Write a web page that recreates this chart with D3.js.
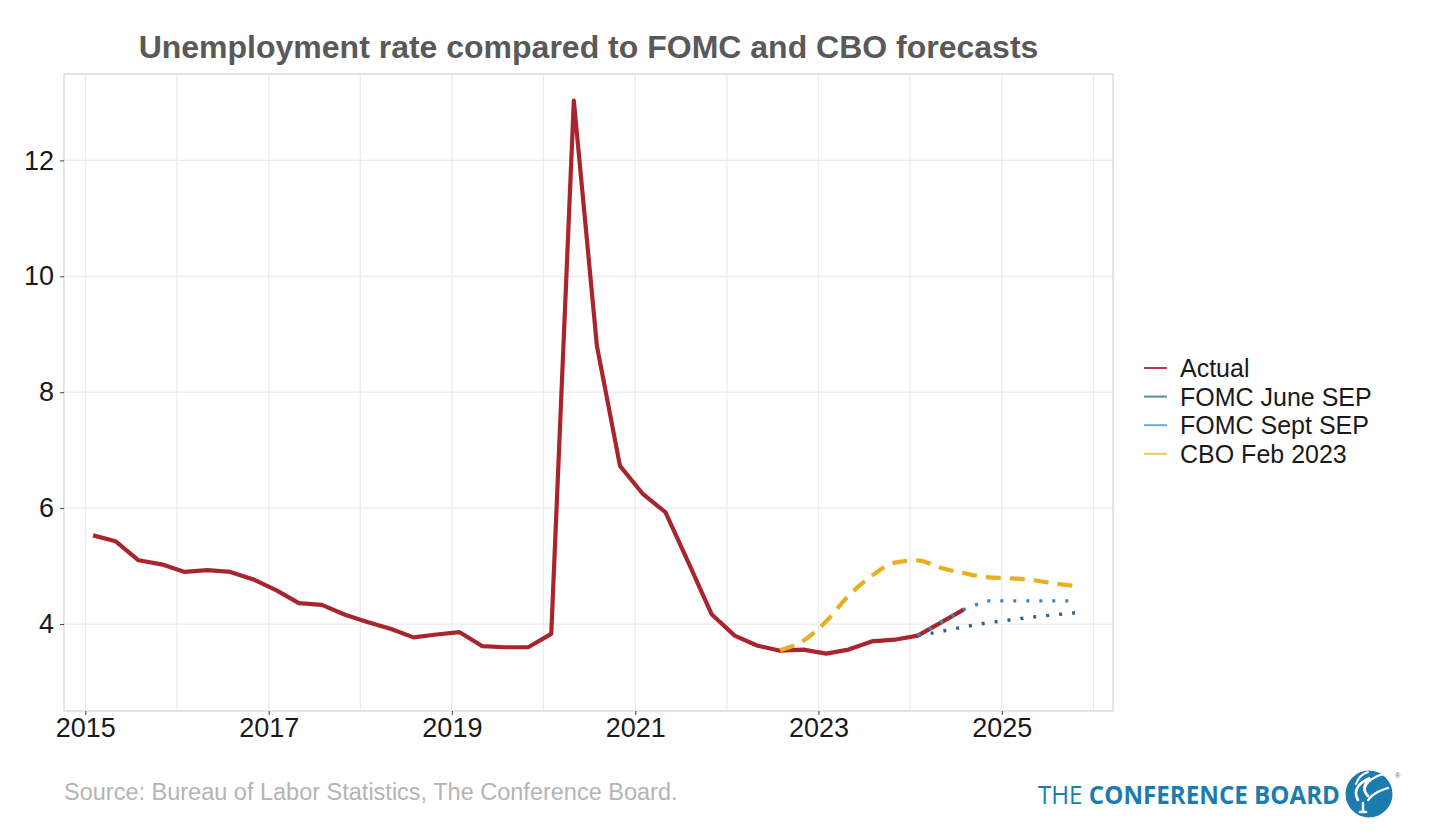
<!DOCTYPE html>
<html>
<head>
<meta charset="utf-8">
<script src="https://cdn.jsdelivr.net/npm/d3@7"></script>
<style>
  html, body { margin: 0; padding: 0; background: #ffffff; }
  svg { display: block; font-family: "Liberation Sans", Arial, sans-serif; }
</style>
</head>
<body>
<svg id="chart" width="1430" height="834"></svg>
<script>
// ---------------- DATA ----------------
const actualDates = [
  "2015-02-01","2015-05-01","2015-08-01","2015-11-01",
  "2016-02-01","2016-05-01","2016-08-01","2016-11-01",
  "2017-02-01","2017-05-01","2017-08-01","2017-11-01",
  "2018-02-01","2018-05-01","2018-08-01","2018-11-01",
  "2019-02-01","2019-05-01","2019-08-01","2019-11-01",
  "2020-02-01","2020-05-01","2020-08-01","2020-11-01",
  "2021-02-01","2021-05-01","2021-08-01","2021-11-01",
  "2022-02-01","2022-05-01","2022-08-01","2022-11-01",
  "2023-02-01","2023-05-01","2023-08-01","2023-11-01",
  "2024-02-01","2024-05-01","2024-08-01"
];
const actualValues = [
  5.53, 5.43, 5.10, 5.03,
  4.90, 4.93, 4.90, 4.77,
  4.58, 4.36, 4.33, 4.16,
  4.03, 3.92, 3.77, 3.82,
  3.86, 3.62, 3.60, 3.60,
  3.83, 13.03, 8.80, 6.73,
  6.24, 5.93, 5.06, 4.17,
  3.80, 3.63, 3.54, 3.56,
  3.49, 3.56, 3.70, 3.73,
  3.80, 4.02, 4.25
];

const fomcDates = [
  "2024-02-01","2024-05-01","2024-08-01","2024-11-01",
  "2025-02-01","2025-05-01","2025-08-01","2025-11-01"
];
const fomcJuneValues = [3.80, 3.87, 3.95, 4.02, 4.07, 4.12, 4.16, 4.20];
const fomcSeptValues = [3.80, 4.02, 4.25, 4.40, 4.40, 4.40, 4.40, 4.40];

const cboDates = [
  "2022-08-01","2022-11-01",
  "2023-02-01","2023-05-01","2023-08-01","2023-11-01",
  "2024-02-01","2024-05-01","2024-08-01","2024-11-01",
  "2025-02-01","2025-05-01","2025-08-01","2025-11-01"
];
const cboValues = [3.55, 3.71, 4.05, 4.49, 4.83, 5.06, 5.10, 4.97, 4.88, 4.81, 4.79, 4.76, 4.70, 4.65];

const yTicks = [4, 6, 8, 10, 12];
const xTickYears = [2015, 2017, 2019, 2021, 2023, 2025];
const xMinorYears = [2016, 2018, 2020, 2022, 2024, 2026];

const seriesNames = ["Actual", "FOMC June SEP", "FOMC Sept SEP", "CBO Feb 2023"];

const titleText = "Unemployment rate compared to FOMC and CBO forecasts";
const sourceText = "Source: Bureau of Labor Statistics, The Conference Board.";

// ---------------- LAYOUT ----------------
const parse = d3.timeParse("%Y-%m-%d");
const svg = d3.select("#chart");
const panel = { left: 64, right: 1113, top: 74, bottom: 711 };

const x = d3.scaleTime()
  .domain([parse("2014-10-08"), parse("2026-03-20")])
  .range([panel.left, panel.right]);
const y = d3.scaleLinear()
  .domain([2.5, 13.49])
  .range([panel.bottom, panel.top]);

const colors = {
  actual: "#a8252e",
  june: "#2a6196",
  sept: "#3a84bd",
  cbo: "#e8af22"
};
const legendColors = ["#a8454b", "#5f8aa3", "#6aabc9", "#ecc660"];

// gridlines
const grid = svg.append("g");
grid.selectAll("line.ymaj").data(yTicks).join("line")
  .attr("x1", panel.left).attr("x2", panel.right)
  .attr("y1", d => y(d)).attr("y2", d => y(d))
  .attr("stroke", "#ebebeb").attr("stroke-width", 1.2);
grid.selectAll("line.xmaj").data(xTickYears.concat(xMinorYears)).join("line")
  .attr("x1", d => x(new Date(d, 0, 1))).attr("x2", d => x(new Date(d, 0, 1)))
  .attr("y1", panel.top).attr("y2", panel.bottom)
  .attr("stroke", "#ebebeb").attr("stroke-width", 1.2);

// panel border
svg.append("rect")
  .attr("x", panel.left).attr("y", panel.top)
  .attr("width", panel.right - panel.left).attr("height", panel.bottom - panel.top)
  .attr("fill", "none").attr("stroke", "#d4d4d4").attr("stroke-width", 1.2);

// axes
const yAxis = svg.append("g")
  .attr("transform", `translate(${panel.left},0)`)
  .call(d3.axisLeft(y).tickValues(yTicks).tickSize(4).tickPadding(6).tickFormat(d3.format("d")));
yAxis.select(".domain").remove();
yAxis.selectAll(".tick line").attr("stroke", "#444").attr("stroke-width", 1);
yAxis.selectAll(".tick text").attr("font-size", 27).attr("fill", "#1a1a1a")
  .attr("font-family", "'Liberation Sans', Arial, sans-serif");

const xAxis = svg.append("g")
  .attr("transform", `translate(0,${panel.bottom})`)
  .call(d3.axisBottom(x).tickValues(xTickYears.map(yr => new Date(yr, 0, 1)))
    .tickSize(4).tickPadding(3).tickFormat(d3.timeFormat("%Y")));
xAxis.select(".domain").remove();
xAxis.selectAll(".tick line").attr("stroke", "#444").attr("stroke-width", 1);
xAxis.selectAll(".tick text").attr("font-size", 27).attr("fill", "#1a1a1a")
  .attr("font-family", "'Liberation Sans', Arial, sans-serif");

// lines
const mk = (dates, vals) => dates.map((d, i) => ({ date: parse(d), value: vals[i] }));
const lineLin = d3.line().x(d => x(d.date)).y(d => y(d.value));
const lineSmooth = d3.line().x(d => x(d.date)).y(d => y(d.value)).curve(d3.curveMonotoneX);

const plot = svg.append("g");
plot.append("path").datum(mk(actualDates, actualValues))
  .attr("d", lineLin).attr("fill", "none")
  .attr("stroke", colors.actual).attr("stroke-width", 4.2)
  .attr("stroke-linejoin", "round");

plot.append("path").datum(mk(cboDates, cboValues))
  .attr("d", lineSmooth).attr("fill", "none")
  .attr("stroke", colors.cbo).attr("stroke-width", 4.2)
  .attr("stroke-dasharray", "15,9");

plot.append("path").datum(mk(fomcDates, fomcJuneValues))
  .attr("d", lineLin).attr("fill", "none")
  .attr("stroke", colors.june).attr("stroke-width", 3.4)
  .attr("stroke-dasharray", "3,10");

plot.append("path").datum(mk(fomcDates, fomcSeptValues))
  .attr("d", lineLin).attr("fill", "none")
  .attr("stroke", colors.sept).attr("stroke-width", 3.4)
  .attr("stroke-dasharray", "3,10");

// title
svg.append("text")
  .attr("x", (panel.left + panel.right) / 2).attr("y", 58)
  .attr("text-anchor", "middle")
  .attr("font-size", 32).attr("font-weight", "bold")
  .attr("fill", "#595959")
  .text(titleText);

// legend
const legend = svg.append("g").attr("transform", "translate(1144,368)");
seriesNames.forEach((name, i) => {
  const g = legend.append("g").attr("transform", `translate(0,${i * 28.6})`);
  g.append("line").attr("x1", 0).attr("x2", 23).attr("y1", 0).attr("y2", 0)
    .attr("stroke", legendColors[i]).attr("stroke-width", 2);
  g.append("text").attr("x", 36).attr("y", 9)
    .attr("font-size", 25).attr("fill", "#1a1a1a")
    .text(name);
});

// source
svg.append("text")
  .attr("x", 64).attr("y", 800)
  .attr("font-size", 23.5).attr("fill", "#b4b4b4")
  .text(sourceText);

// logo
const logo = svg.append("g");
const lt = logo.append("text")
  .attr("x", 1038).attr("y", 804)
  .attr("font-family", "'Open Sans', 'Noto Sans', sans-serif")
  .attr("font-size", 25).attr("fill", "#1b7cad")
  .attr("textLength", 302).attr("lengthAdjust", "spacingAndGlyphs");
lt.append("tspan").attr("font-weight", "normal").text("THE ");
lt.append("tspan").attr("font-weight", "bold").text("CONFERENCE BOARD");

logo.append("circle").attr("cx", 1369).attr("cy", 794).attr("r", 23.5).attr("fill", "#1b7cad");
// emblem strokes (torch/flame)
const em = logo.append("g").attr("fill", "none").attr("stroke", "#ffffff").attr("stroke-linecap", "round");
em.append("path").attr("d", "M1360,812 L1366,812 M1363,812 L1363,803").attr("stroke-width", 2.5);
em.append("path").attr("d", "M1358,800 C1352,790 1360,782 1370,778 C1362,786 1364,792 1368,796").attr("stroke-width", 2.6);
em.append("path").attr("d", "M1364,790 C1366,782 1374,776 1384,774").attr("stroke-width", 2.2);
em.append("path").attr("d", "M1368,800 C1374,792 1382,790 1388,788").attr("stroke-width", 2.2);
em.append("path").attr("d", "M1356,784 C1358,778 1362,774 1368,772").attr("stroke-width", 2);
logo.append("text").attr("x", 1395).attr("y", 778).attr("font-size", 7).attr("fill", "#1b7cad").text("®");
</script>
</body>
</html>
